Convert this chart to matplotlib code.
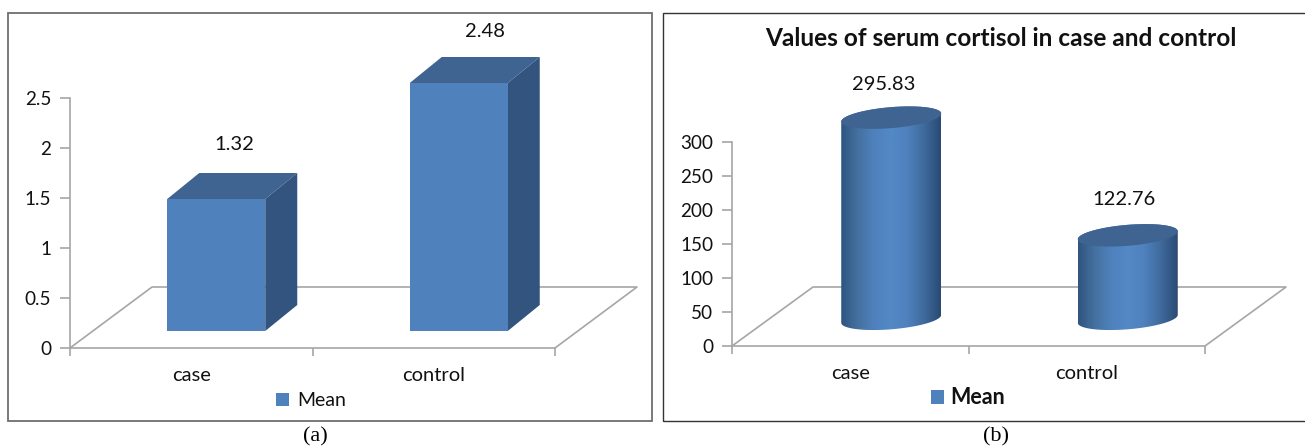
import numpy as np
import matplotlib
matplotlib.use("Agg")
import matplotlib.pyplot as plt
from matplotlib.colors import LinearSegmentedColormap
from matplotlib.patches import Patch, Polygon, Rectangle

categories = ["case", "control"]
cortisol_a = [1.32, 2.48]
cortisol_b = [295.83, 122.76]
ticks_a = [0, 0.5, 1, 1.5, 2, 2.5]
ticks_b = [0, 50, 100, 150, 200, 250, 300]
series_name = "Mean"
title_b = "Values of serum cortisol in case and control"

W, H = 1305, 446
FRONT = "#4F81BD"
TOP = "#3F6491"
SIDE = "#33547E"
GREY = "#A6A6A6"
TEXT = "#111111"

plt.rcParams["font.family"] = ["Lato", "DejaVu Sans"]
fig = plt.figure(figsize=(W / 100, H / 100), dpi=100)


def make_axes(left, right, top, bottom, ymax, yticks):
    ax = fig.add_axes([left / W, 1 - bottom / H, (right - left) / W, (bottom - top) / H])
    ax.set_xlim(0, 2)
    ax.set_ylim(0, ymax)
    ax.patch.set_alpha(0)
    ax.spines[["top", "right"]].set_visible(False)
    ax.spines[["left", "bottom"]].set_color(GREY)
    ax.spines[["left", "bottom"]].set_linewidth(1.2)
    ax.set_yticks(yticks)
    ax.set_yticklabels([f"{t:g}" for t in yticks], fontsize=13.6, color=TEXT, va="center_baseline")
    ax.set_xticks([0, 1, 2])
    ax.set_xticklabels([])
    ax.set_xticks([0.5, 1.5], categories, minor=True, fontsize=14.5, color=TEXT)
    ax.tick_params(axis="y", length=7, width=1.2, color=GREY, pad=6.5)
    ax.tick_params(axis="x", which="major", length=6, width=1.2, color=GREY)
    ax.tick_params(axis="x", which="minor", length=0, pad=14)
    # pixels per data unit
    ax.px = (right - left) / 2
    ax.py = (bottom - top) / ymax
    return ax


def draw_floor(ax, dx, dy):
    x0, x1 = 0, 2
    ax.plot([x0, x0 + dx / ax.px, x1 + dx / ax.px, x1], [0, dy / ax.py, dy / ax.py, 0],
            color=GREY, lw=1.2, clip_on=False, zorder=1)


def draw_box(ax, xc, value, base, width, dx, dy):
    w = width / ax.px / 2
    ox, oy = dx / ax.px, dy / ax.py
    y0, y1 = base, base + value
    ax.add_patch(Polygon([(xc - w, y1), (xc + w, y1), (xc + w + ox, y1 + oy), (xc - w + ox, y1 + oy)],
                         fc=TOP, ec="none", clip_on=False, zorder=3))
    ax.add_patch(Polygon([(xc + w, y0), (xc + w + ox, y0 + oy), (xc + w + ox, y1 + oy), (xc + w, y1)],
                         fc=SIDE, ec="none", clip_on=False, zorder=3))
    ax.add_patch(Rectangle((xc - w, y0), 2 * w, value, fc=FRONT, ec="none", clip_on=False, zorder=4))


cyl_cmap = LinearSegmentedColormap.from_list(
    "cyl", ["#2F5480", "#44719F", "#4F81BD", "#5389C6", "#4F81BD", "#3F6A9C", "#2A4A73"])


def ellipse_pts(ax, xc, yc, a, b, slope, start=0, stop=2 * np.pi):
    t = np.linspace(start, stop, 80)
    px = a * np.cos(t)
    py = b * np.sin(t) + slope * px
    return xc + px / ax.px, yc + py / ax.py


def draw_cylinder(ax, xc, value, base, width, minor, slope):
    a = width / 2
    y0, y1 = base, base + value
    # body outline: top half of the top ellipse joined to lower half of the bottom one
    xb, yb = ellipse_pts(ax, xc, y0, a, minor, slope, np.pi, 2 * np.pi)
    xt, yt = ellipse_pts(ax, xc, y1, a, minor, slope, 0, np.pi)
    body = Polygon(np.column_stack([np.r_[xb, xt], np.r_[yb, yt]]), fc="none", ec="none",
                   clip_on=False, zorder=3)
    ax.add_patch(body)
    w = a / ax.px
    pad = (minor + abs(slope) * a + 2) / ax.py
    im = ax.imshow(np.linspace(0, 1, 256)[None, :], cmap=cyl_cmap, aspect="auto",
                   extent=[xc - w, xc + w, y0 - pad, y1 + pad], zorder=3)
    # the cylinders stick out above the axes box
    im.set_clip_box(fig.bbox)
    im.set_clip_path(body)
    xe, ye = ellipse_pts(ax, xc, y1, a, minor, slope)
    ax.add_patch(Polygon(np.column_stack([xe, ye]), fc=TOP, ec="none", clip_on=False, zorder=4))


# panel (a)
ax_a = make_axes(70, 555, 98, 348, 2.5, ticks_a)
draw_floor(ax_a, 82, 61)
for i, v in enumerate(cortisol_a):
    xc = i + 0.5 + 25 / ax_a.px
    draw_box(ax_a, xc, v, 0.17, 98, 32, 26)
label_shift_a = [18, 26]
label_gap_a = [55, 52]
for i, v in enumerate(cortisol_a):
    xc = i + 0.5 + 25 / ax_a.px
    ax_a.text(xc + label_shift_a[i] / ax_a.px, 0.17 + v + label_gap_a[i] / ax_a.py, f"{v:g}",
              ha="center", va="center", fontsize=14.5, color=TEXT, zorder=5)
ax_a.legend(handles=[Patch(fc=FRONT, ec="none", label=series_name)], loc="center",
            bbox_to_anchor=(311 / W, 1 - 401 / H), bbox_transform=fig.transFigure, frameon=False,
            fontsize=14, handlelength=0.65, handleheight=0.65, handletextpad=0.45,
            labelcolor=TEXT)

# panel (b)
ax_b = make_axes(732, 1205, 142, 346, 300, ticks_b)
draw_floor(ax_b, 81, 59)
for i, v in enumerate(cortisol_b):
    xc = i + 0.5 + 41 / ax_b.px
    draw_cylinder(ax_b, xc, v, 40, 100, 10.5, 0.08)
label_shift_b = [-8, -4]
label_gap_b = [33, 36]
for i, v in enumerate(cortisol_b):
    xc = i + 0.5 + 41 / ax_b.px
    ax_b.text(xc + label_shift_b[i] / ax_b.px, 40 + v + label_gap_b[i] / ax_b.py, f"{v:g}",
              ha="center", va="center", fontsize=14.5, color=TEXT, zorder=5)
ax_b.legend(handles=[Patch(fc=FRONT, ec="none", label=series_name)], loc="center",
            bbox_to_anchor=(968 / W, 1 - 398 / H), bbox_transform=fig.transFigure, frameon=False,
            handlelength=0.62, handleheight=0.62, handletextpad=0.3, labelcolor=TEXT,
            prop={"size": 15.5, "weight": "bold"})
fig.text(1001 / W, 1 - 39 / H, title_b, ha="center", va="center", fontsize=17.6,
         fontweight="bold", color=TEXT)

# panel frames and captions
fig.add_artist(Rectangle((8 / W, 1 - 421 / H), 644 / W, 408 / H, fc="none",
                         ec="#6E6E6E", lw=1.3, transform=fig.transFigure))
fig.add_artist(Rectangle((663 / W, 1 - 421 / H), 645 / W, 408 / H, fc="none",
                         ec="#333333", lw=1, transform=fig.transFigure))
for x, label in [(315.5, "(a)"), (996, "(b)")]:
    fig.text(x / W, 1 - 437 / H, label, ha="center", va="center", fontsize=16,
             family="Liberation Serif", color="black")

fig.savefig("out.png", dpi=100)
